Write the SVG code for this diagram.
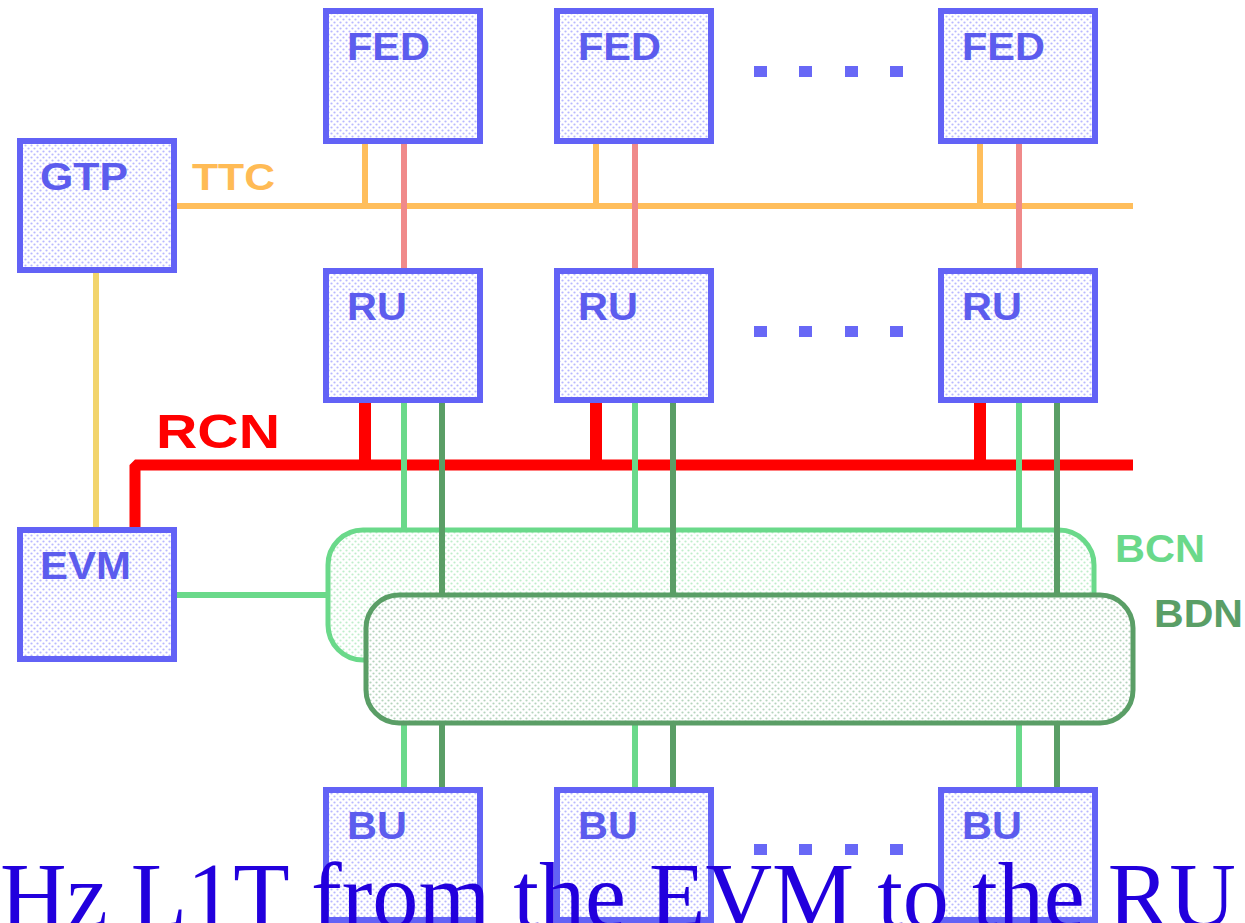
<svg xmlns="http://www.w3.org/2000/svg" width="1245" height="923" viewBox="0 0 1245 923">
<defs>
<pattern id="dotB" width="6" height="6" patternUnits="userSpaceOnUse"><rect width="6" height="6" fill="#ffffff"/><circle cx="1.5" cy="1.5" r="1.1" fill="#b8b8ff"/><circle cx="4.5" cy="4.5" r="1.1" fill="#b8b8ff"/></pattern>
<pattern id="dotG" width="6" height="6" patternUnits="userSpaceOnUse"><rect width="6" height="6" fill="#ffffff"/><circle cx="1.5" cy="1.5" r="1.1" fill="#bfeecb"/><circle cx="4.5" cy="4.5" r="1.1" fill="#bfeecb"/></pattern>
<pattern id="dotD" width="6" height="6" patternUnits="userSpaceOnUse"><rect width="6" height="6" fill="#ffffff"/><circle cx="1.5" cy="1.5" r="1.1" fill="#b5d4bd"/><circle cx="4.5" cy="4.5" r="1.1" fill="#b5d4bd"/></pattern>
</defs>
<style>
.box{fill:url(#dotB);stroke:#6262f6;stroke-width:6}
.lbl{font-family:"Liberation Sans",Arial,sans-serif;font-weight:bold;font-size:38px;fill:#5c5cee}
.dot{fill:#6868f6}
.ttc{stroke:#ffbe5c;stroke-width:6;fill:none}
.sal{stroke:#f08a8a;stroke-width:6;fill:none}
.yel{stroke:#f2d46c;stroke-width:6;fill:none}
.red{stroke:#ff0000;fill:none}
.lg{stroke:#6ad98a;stroke-width:6;fill:none}
.dg{stroke:#5a9e66;stroke-width:6;fill:none}
.cap{font-family:"Liberation Serif","Times New Roman",serif;font-size:93px;fill:#2200dd}
</style>
<rect width="1245" height="923" fill="#ffffff"/>

<g id="BCN">
<rect x="328" y="530" width="766" height="130" rx="35" fill="url(#dotG)" stroke="#6ad98a" stroke-width="5"/>
<text x="1115" y="562" class="lbl" style="fill:#6ad98a" textLength="90" lengthAdjust="spacingAndGlyphs">BCN</text>
</g>

<g id="connectors">
<path class="ttc" d="M177,206 H1133 M365,144 V206 M596,144 V206 M980,144 V206"/>
<path class="sal" d="M404,144 V268 M635,144 V268 M1019,144 V268"/>
<path class="yel" d="M96,273 V527"/>
<path class="red" stroke-width="11" stroke-linejoin="bevel" d="M135,527 V465 H1133"/>
<path class="red" stroke-width="12" d="M365,402 V465 M596,402 V465 M980,402 V465"/>
<path class="lg" d="M404,402 V530 M635,402 V530 M1019,402 V530 M177,595 H328 M404,723 V787 M635,723 V787 M1019,723 V787"/>
<path class="dg" d="M442,402 V595 M673,402 V595 M1057,402 V595 M442,723 V787 M673,723 V787 M1057,723 V787"/>
<text x="192" y="190" style="font-family:'Liberation Sans',Arial,sans-serif;font-weight:bold;font-size:36px;fill:#ffbb55" textLength="83" lengthAdjust="spacingAndGlyphs">TTC</text>
<text x="156" y="448" style="font-family:'Liberation Sans',Arial,sans-serif;font-weight:bold;font-size:49px;fill:#ff0000" textLength="124" lengthAdjust="spacingAndGlyphs">RCN</text>
</g>

<g id="BDN">
<rect x="366" y="595" width="767" height="128" rx="33" fill="url(#dotD)" stroke="#5a9e66" stroke-width="5"/>
<text x="1154" y="627" class="lbl" style="fill:#5a9e66" textLength="89" lengthAdjust="spacingAndGlyphs">BDN</text>
</g>

<g id="FED1"><rect class="box" x="326" y="11" width="154" height="130"/><text class="lbl" x="347" y="60" textLength="83" lengthAdjust="spacingAndGlyphs">FED</text></g>
<g id="FED2"><rect class="box" x="557" y="11" width="154" height="130"/><text class="lbl" x="578" y="60" textLength="83" lengthAdjust="spacingAndGlyphs">FED</text></g>
<g id="FED3"><rect class="box" x="941" y="11" width="154" height="130"/><text class="lbl" x="962" y="60" textLength="83" lengthAdjust="spacingAndGlyphs">FED</text></g>

<g id="GTP"><rect class="box" x="20" y="141" width="154" height="129"/><text class="lbl" x="40" y="190" textLength="88" lengthAdjust="spacingAndGlyphs">GTP</text></g>

<g id="RU1"><rect class="box" x="326" y="271" width="154" height="129"/><text class="lbl" x="347" y="320" textLength="60" lengthAdjust="spacingAndGlyphs">RU</text></g>
<g id="RU2"><rect class="box" x="557" y="271" width="154" height="129"/><text class="lbl" x="578" y="320" textLength="60" lengthAdjust="spacingAndGlyphs">RU</text></g>
<g id="RU3"><rect class="box" x="941" y="271" width="154" height="129"/><text class="lbl" x="962" y="320" textLength="60" lengthAdjust="spacingAndGlyphs">RU</text></g>

<g id="EVM"><rect class="box" x="20" y="530" width="154" height="129"/><text class="lbl" x="40" y="579" textLength="91" lengthAdjust="spacingAndGlyphs">EVM</text></g>

<g id="BU1"><rect class="box" x="326" y="790" width="154" height="130"/><text class="lbl" x="347" y="839" textLength="60" lengthAdjust="spacingAndGlyphs">BU</text></g>
<g id="BU2"><rect class="box" x="557" y="790" width="154" height="130"/><text class="lbl" x="578" y="839" textLength="60" lengthAdjust="spacingAndGlyphs">BU</text></g>
<g id="BU3"><rect class="box" x="941" y="790" width="154" height="130"/><text class="lbl" x="962" y="839" textLength="60" lengthAdjust="spacingAndGlyphs">BU</text></g>

<g id="dots">
<rect class="dot" x="754" y="66" width="13" height="11"/><rect class="dot" x="799" y="66" width="13" height="11"/><rect class="dot" x="845" y="66" width="13" height="11"/><rect class="dot" x="890" y="66" width="13" height="11"/>
<rect class="dot" x="754" y="326" width="13" height="11"/><rect class="dot" x="799" y="326" width="13" height="11"/><rect class="dot" x="845" y="326" width="13" height="11"/><rect class="dot" x="890" y="326" width="13" height="11"/>
<rect class="dot" x="754" y="844" width="13" height="11"/><rect class="dot" x="799" y="844" width="13" height="11"/><rect class="dot" x="845" y="844" width="13" height="11"/><rect class="dot" x="890" y="844" width="13" height="11"/>
</g>

<text class="cap" x="0" y="927" textLength="1236" lengthAdjust="spacingAndGlyphs">Hz L1T from the EVM to the RU</text>
</svg>
